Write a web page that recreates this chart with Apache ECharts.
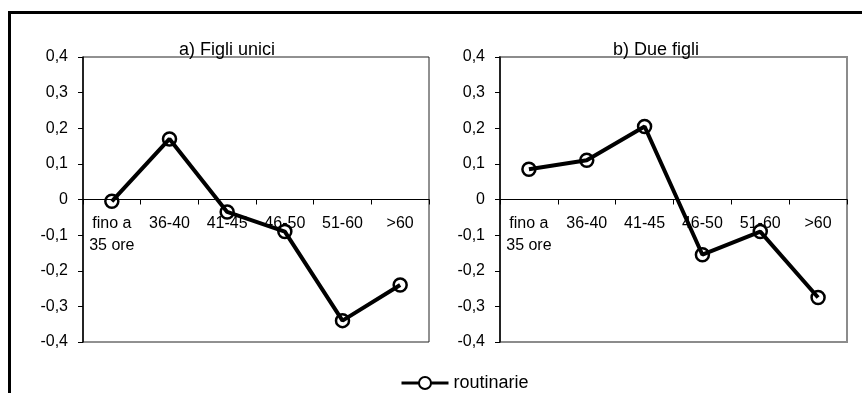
<!DOCTYPE html>
<html>
<head>
<meta charset="utf-8">
<script src="https://cdn.jsdelivr.net/npm/echarts@6/dist/echarts.min.js"></script>
<style>
html,body{margin:0;padding:0;background:#fff;}
#c{width:866px;height:393px;}
</style>
</head>
<body>
<div id="c"></div>
<script>
const categories = ['fino a\n35 ore', '36-40', '41-45', '46-50', '51-60', '>60'];
const figliUnici = [-0.005, 0.17, -0.035, -0.09, -0.34, -0.24];
const dueFigli = [0.085, 0.11, 0.205, -0.155, -0.09, -0.275];
const titles = ['a) Figli unici', 'b) Due figli'];
const seriesName = 'routinarie';
const yMin = -0.4, yMax = 0.4, yStep = 0.1;

const FONT = '"Liberation Sans", Arial, sans-serif';
const GRID_H = 285;
const chart = echarts.init(document.getElementById('c'));

function fmt(v) {
  if (Math.abs(v) < 1e-9) return '0';
  return v.toFixed(1).replace('.', ',');
}

function xAxis(i) {
  return {
    type: 'category', gridIndex: i, data: categories, boundaryGap: true,
    position: 'bottom',
    offset: -GRID_H / 2,
    axisLine: { show: true, onZero: false, lineStyle: { color: '#000', width: 1 } },
    axisTick: { show: true, inside: false, length: 5, interval: 0, alignWithLabel: false, lineStyle: { color: '#000' } },
    axisLabel: { interval: 0, margin: 13, fontFamily: FONT, fontSize: 16, lineHeight: 22, color: '#000' },
    splitLine: { show: false }
  };
}
function yAxis(i) {
  return {
    type: 'value', gridIndex: i, min: yMin, max: yMax, interval: yStep,
    axisLine: { show: true, lineStyle: { color: '#000', width: 1.5 } },
    axisTick: { show: true, inside: false, length: 5, lineStyle: { color: '#000' } },
    axisLabel: { margin: 15, fontFamily: FONT, fontSize: 16, color: '#000', formatter: fmt },
    splitLine: { show: false }
  };
}
function series(i, data) {
  return {
    name: seriesName, type: 'line', xAxisIndex: i, yAxisIndex: i, data: data,
    symbol: 'circle', symbolSize: 13, showAllSymbol: true,
    lineStyle: { color: '#000', width: 4 },
    itemStyle: { color: 'rgba(255,255,255,0)', borderColor: '#000', borderWidth: 2.5 },
    emphasis: { disabled: true },
    animation: false, z: 3
  };
}

chart.setOption({
  animation: false,
  backgroundColor: '#fff',
  title: [
    { text: titles[0], left: 222, top: 36, textAlign: 'center',
      textStyle: { fontFamily: FONT, fontSize: 18, fontWeight: 'normal', color: '#000' } },
    { text: titles[1], left: 651, top: 36, textAlign: 'center',
      textStyle: { fontFamily: FONT, fontSize: 18, fontWeight: 'normal', color: '#000' } }
  ],
  legend: {
    left: 395, top: 369, itemWidth: 47, itemHeight: 15, itemGap: 10,
    data: [{ name: seriesName, itemStyle: { color: '#fff', borderColor: '#000', borderWidth: 2 }, lineStyle: { color: '#000', width: 3 } }],
    textStyle: { fontFamily: FONT, fontSize: 18, color: '#000' },
    selectedMode: false
  },
  grid: [
    { left: 83, top: 57, width: 346, height: GRID_H, show: true, borderColor: '#222', borderWidth: 1, backgroundColor: 'transparent' },
    { left: 500, top: 57, width: 347, height: GRID_H, show: true, borderColor: '#8c8c8c', borderWidth: 2, backgroundColor: 'transparent' }
  ],
  xAxis: [xAxis(0), xAxis(1)],
  yAxis: [yAxis(0), yAxis(1)],
  series: [series(0, figliUnici), series(1, dueFigli)],
  graphic: [
    { type: 'polyline', silent: true, z: 10,
      shape: { points: [[862, 12.5], [9.5, 12.5], [9.5, 400]] },
      style: { stroke: '#000', lineWidth: 3, fill: null } }
  ]
});
</script>
</body>
</html>
